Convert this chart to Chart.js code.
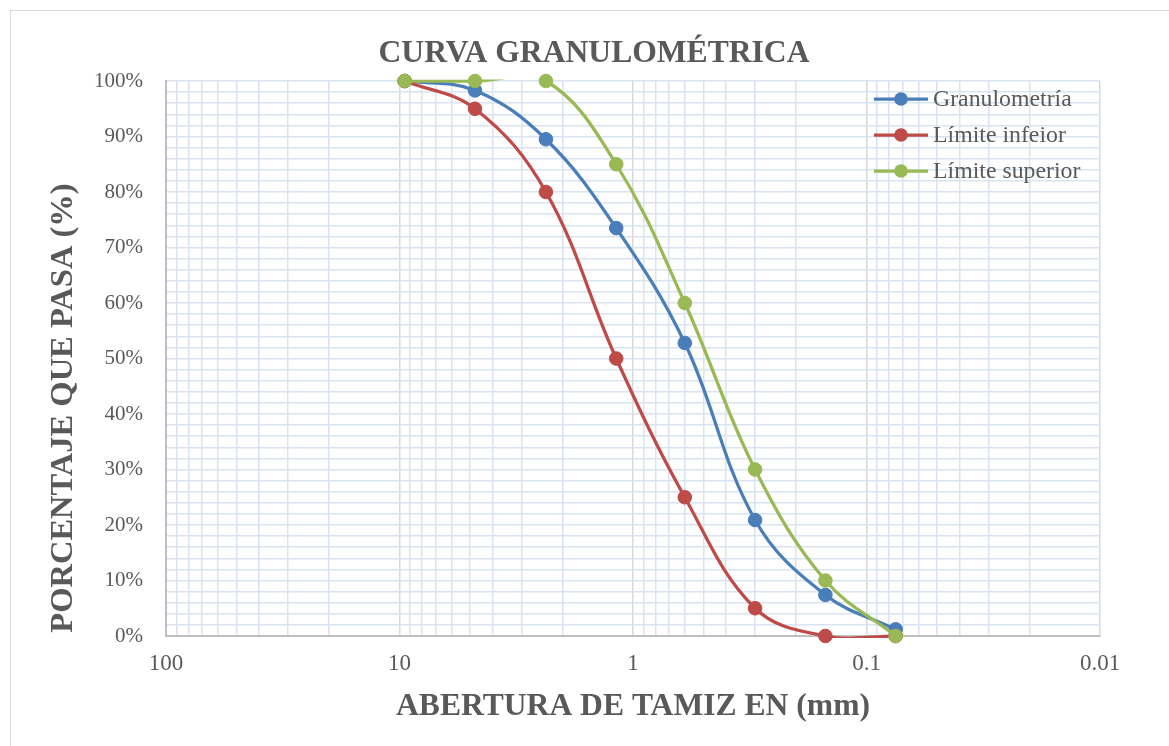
<!DOCTYPE html>
<html>
<head>
<meta charset="utf-8">
<title>Curva granulométrica</title>
<script src="https://cdn.jsdelivr.net/npm/chart.js@4/dist/chart.umd.min.js"></script>
<style>
  html, body { margin: 0; padding: 0; background: #ffffff; }
  #wrap { width: 1169px; height: 746px; position: relative; }
</style>
</head>
<body>
<div id="wrap"><canvas id="curva" width="1169" height="746"></canvas></div>
<script>
// Abertura de tamices (mm) y porcentaje que pasa
const aberturas = [9.5, 4.75, 2.36, 1.18, 0.6, 0.3, 0.15, 0.075];
const granulometria = [100, 98.3, 89.5, 73.5, 52.8, 20.9, 7.4, 1.2];
const limiteInferior = [100, 95, 80, 50, 25, 5, 0, 0];
const limiteSuperior = [100, 100, 100, 85, 60, 30, 10, 0];

const seriesNames = ['Granulometría', 'Límite infeior', 'Límite superior'];
const seriesColors = ['#4A7EBB', '#BE4B48', '#98B954'];

// Etiquetas de los ejes
const aberturaTicks = [100, 10, 1, 0.1, 0.01];
const porcentajeTicks = [0, 10, 20, 30, 40, 50, 60, 70, 80, 90, 100];

const chartTitle = 'CURVA GRANULOMÉTRICA';
const xTitle = 'ABERTURA DE TAMIZ EN (mm)';
const yTitle = 'PORCENTAJE QUE PASA (%)';

const SERIF = "'Liberation Serif', 'Times New Roman', serif";
const TEXT = '#595959';
const MINOR_GRID = '#D9E3F2';
const MAJOR_GRID = '#D9D9D9';
const AXIS_LINE = '#BFBFBF';

const seriesValues = [granulometria, limiteInferior, limiteSuperior];
const toPoints = vals => aberturas.map((x, i) => ({ x: x, y: vals[i] }));

const isDecade = v => Math.abs(Math.log10(v) - Math.round(Math.log10(v))) < 1e-9;

// Every series: a smoothed line clipped to the plot area, then its markers on top
const datasets = [];
seriesValues.forEach((vals, i) => {
  const color = seriesColors[i];
  const rank = (seriesValues.length - i) * 2;
  datasets.push({
    label: seriesNames[i],
    data: toPoints(vals),
    showLine: true,
    borderColor: color,
    backgroundColor: color,
    borderWidth: 3.25,
    pointRadius: 0,
    pointHoverRadius: 0,
    tension: 0.38,
    clip: { left: 2, right: 2, top: 1.5, bottom: 2 },
    order: rank
  });
  datasets.push({
    label: seriesNames[i] + ' (puntos)',
    data: toPoints(vals),
    showLine: false,
    borderColor: color,
    backgroundColor: color,
    borderWidth: 1,
    pointRadius: 6.8,
    pointHoverRadius: 6.8,
    clip: false,
    order: rank - 1
  });
});

const decoration = {
  id: 'decoration',
  beforeDraw(chart) {
    const ctx = chart.ctx;
    ctx.save();
    ctx.fillStyle = '#ffffff';
    ctx.fillRect(0, 0, chart.width, chart.height);
    ctx.strokeStyle = '#D9D9D9';
    ctx.lineWidth = 1;
    ctx.strokeRect(10.5, 10.5, chart.width + 20, chart.height + 20);
    ctx.restore();
  },
  afterDraw(chart) {
    const ctx = chart.ctx;
    const area = chart.chartArea;
    ctx.save();
    ctx.fillStyle = TEXT;

    // Título
    ctx.font = 'bold 31.6px ' + SERIF;
    ctx.textAlign = 'center';
    ctx.textBaseline = 'alphabetic';
    ctx.fillText(chartTitle, 594, 62);

    // Título del eje X
    ctx.font = 'bold 31.6px ' + SERIF;
    ctx.fillText(xTitle, (area.left + area.right) / 2, 715);

    // Título del eje Y
    ctx.save();
    ctx.font = 'bold 32.5px ' + SERIF;
    ctx.translate(72, 408);
    ctx.rotate(-Math.PI / 2);
    ctx.fillText(yTitle, 0, 0);
    ctx.restore();

    // Leyenda
    const rows = [99, 135, 171];
    ctx.font = '23.8px ' + SERIF;
    ctx.textAlign = 'left';
    ctx.textBaseline = 'middle';
    seriesNames.forEach((name, i) => {
      const y = rows[i];
      ctx.strokeStyle = seriesColors[i];
      ctx.lineWidth = 3.25;
      ctx.beginPath();
      ctx.moveTo(874, y);
      ctx.lineTo(928, y);
      ctx.stroke();
      ctx.fillStyle = seriesColors[i];
      ctx.beginPath();
      ctx.arc(901, y, 6.8, 0, Math.PI * 2);
      ctx.fill();
      ctx.fillStyle = TEXT;
      ctx.fillText(name, 933, y + 1);
    });
    ctx.restore();
  }
};

new Chart(document.getElementById('curva'), {
  type: 'scatter',
  data: { datasets: datasets },
  options: {
    responsive: false,
    animation: false,
    events: [],
    layout: { padding: { top: 81, right: 69, left: 0, bottom: 0 } },
    elements: { line: { capBezierPoints: false } },
    plugins: {
      legend: { display: false },
      title: { display: false },
      tooltip: { enabled: false }
    },
    scales: {
      x: {
        type: 'logarithmic',
        reverse: true,
        min: 0.01,
        max: 100,
        afterFit(scale) { scale.height = 110; },
        afterBuildTicks(scale) {
          const ticks = [];
          for (let e = -2; e <= 1; e++) {
            for (let k = 1; k <= 9; k++) {
              ticks.push({ value: parseFloat((k * Math.pow(10, e)).toPrecision(6)) });
            }
          }
          ticks.push({ value: 100 });
          scale.ticks = ticks;
        },
        ticks: {
          autoSkip: false,
          maxRotation: 0,
          padding: 14,
          color: TEXT,
          font: { family: SERIF, size: 23 },
          callback(value) {
            const hit = aberturaTicks.find(t => Math.abs(t - value) < 1e-9);
            return hit === undefined ? '' : String(hit);
          }
        },
        grid: {
          drawTicks: false,
          lineWidth: 1.5,
          color(ctx) {
            const v = ctx.tick ? ctx.tick.value : 1;
            return isDecade(v) ? MAJOR_GRID : MINOR_GRID;
          }
        },
        border: { display: true, color: AXIS_LINE, width: 2 }
      },
      y: {
        type: 'linear',
        min: 0,
        max: 100,
        afterFit(scale) { scale.width = 166; },
        ticks: {
          stepSize: 2,
          autoSkip: false,
          padding: 23,
          color: TEXT,
          font: { family: SERIF, size: 21 },
          callback(value) {
            return porcentajeTicks.includes(value) ? value + '%' : '';
          }
        },
        grid: {
          drawTicks: false,
          lineWidth: 1.5,
          color: MINOR_GRID
        },
        border: { display: true, color: AXIS_LINE, width: 2 }
      }
    }
  },
  plugins: [decoration]
});
</script>
</body>
</html>
